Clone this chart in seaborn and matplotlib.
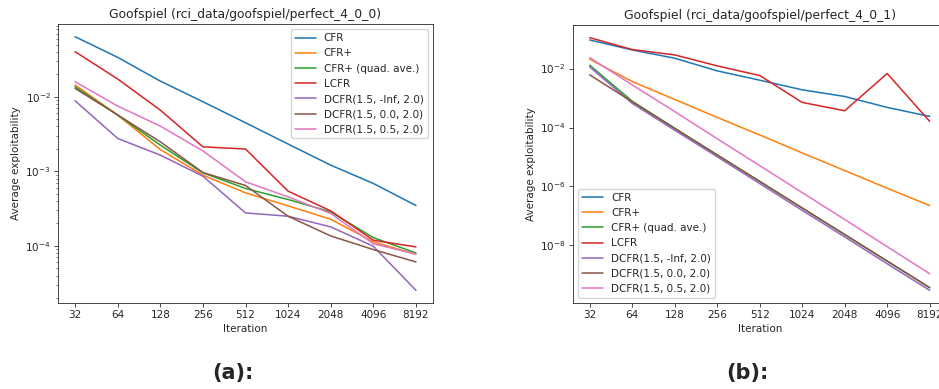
import numpy as np
import pandas as pd
import matplotlib
matplotlib.use("Agg")
import matplotlib.pyplot as plt
import matplotlib.ticker as mticker
import seaborn as sns

iterations = [32, 64, 128, 256, 512, 1024, 2048, 4096, 8192]
algorithms = ["CFR", "CFR+", "CFR+ (quad. ave.)", "LCFR",
              "DCFR(1.5, -Inf, 2.0)", "DCFR(1.5, 0.0, 2.0)", "DCFR(1.5, 0.5, 2.0)"]

# Panel (a): perfect_4_0_0
a_cfr = [0.0638, 0.0337, 0.0162, 0.00857, 0.00448, 0.00232, 0.00121, 0.000687, 0.000348]
a_cfrp = [0.01436, 0.00568, 0.00196, 0.000889, 0.000514, 0.000344, 0.000228, 0.000113, 0.0000773]
a_cfrp_quad = [0.0136, 0.00568, 0.00225, 0.000955, 0.000589, 0.000419, 0.000286, 0.000129, 0.0000805]
a_lcfr = [0.0402, 0.0173, 0.00662, 0.00213, 0.00199, 0.000542, 0.000295, 0.000119, 0.0000970]
a_dcfr_inf = [0.00884, 0.00276, 0.00165, 0.000861, 0.000277, 0.000250, 0.000180, 0.0000990, 0.0000254]
a_dcfr_00 = [0.01294, 0.0057, 0.00249, 0.000964, 0.000646, 0.000250, 0.000136, 0.0000893, 0.0000610]
a_dcfr_05 = [0.0159, 0.0075, 0.00404, 0.00188, 0.000723, 0.000455, 0.000272, 0.000107, 0.0000773]

# Panel (b): perfect_4_0_1
b_cfr = [0.0933, 0.0427, 0.0224, 0.00834, 0.00403, 0.0019, 0.00113, 0.00048, 0.000238]
b_cfrp = [0.0207, 0.00363, 0.000895, 0.00022, 5.6e-5, 1.37e-5, 3.47e-6, 8.7e-7, 2.26e-7]
b_cfrp_quad = [0.013, 0.00078, 9.5e-5, 1.18e-5, 1.5e-6, 1.87e-7, 2.35e-8, 2.95e-9, 3.7e-10]
b_lcfr = [0.1117, 0.044, 0.029, 0.0123, 0.0058, 0.00071, 0.00037, 0.00678, 0.000162]
b_dcfr_inf = [0.0114, 0.00066, 8.1e-5, 1.02e-5, 1.26e-6, 1.55e-7, 1.95e-8, 2.4e-9, 3.0e-10]
b_dcfr_00 = [0.0061, 0.000746, 9.3e-5, 1.17e-5, 1.48e-6, 1.86e-7, 2.34e-8, 2.95e-9, 3.7e-10]
b_dcfr_05 = [0.0235, 0.0028, 0.000347, 4.17e-5, 5.1e-6, 6.2e-7, 7.6e-8, 9.1e-9, 1.1e-9]

titles = ["Goofspiel (rci_data/goofspiel/perfect_4_0_0)",
          "Goofspiel (rci_data/goofspiel/perfect_4_0_1)"]
panel_labels = ["(a):", "(b):"]
xlabel = "Iteration"
ylabel = "Average exploitability"
b_yticks = [1e-2, 1e-4, 1e-6, 1e-8]

panels = [
    [a_cfr, a_cfrp, a_cfrp_quad, a_lcfr, a_dcfr_inf, a_dcfr_00, a_dcfr_05],
    [b_cfr, b_cfrp, b_cfrp_quad, b_lcfr, b_dcfr_inf, b_dcfr_00, b_dcfr_05],
]

sns.set_theme(style="ticks")
s = 0.745
plt.rcParams.update({
    "font.family": ["DejaVu Sans"],
    "font.size": 10 * s,
    "axes.titlesize": 12 * s,
    "axes.labelsize": 10 * s,
    "xtick.labelsize": 10 * s,
    "ytick.labelsize": 10 * s,
    "legend.fontsize": 10 * s,
    "axes.linewidth": 0.8 * s,
    "axes.edgecolor": "#262626",
    "xtick.major.size": 3.5 * s,
    "ytick.major.size": 3.5 * s,
    "xtick.minor.size": 2 * s,
    "ytick.minor.size": 2 * s,
    "xtick.major.width": 0.8 * s,
    "ytick.major.width": 0.8 * s,
    "ytick.minor.width": 0.6 * s,
    "xtick.color": "#262626",
    "ytick.color": "#262626",
    "lines.linewidth": 1.5 * s,
    "axes.titlepad": 6 * s,
    "axes.labelpad": 4 * s,
    "xtick.major.pad": 3.5 * s,
    "ytick.major.pad": 3.5 * s,
})

palette = sns.color_palette("tab10", 7)

fig = plt.figure(figsize=(9.39, 3.89), dpi=100)
W, H = 939, 389
axes_px = [(58, 24, 375, 279), (572.7, 25, 374, 278)]
legend_locs = ["upper right", "lower left"]
label_x = [233, 747]

for i, (data, (x0, y0, w, h)) in enumerate(zip(panels, axes_px)):
    ax = fig.add_axes([x0 / W, (H - y0 - h) / H, w / W, h / H])
    rows = []
    for alg, vals in zip(algorithms, data):
        for it, v in zip(iterations, vals):
            rows.append({"Iteration": it, "value": v, "algorithm": alg})
    df = pd.DataFrame(rows)
    sns.lineplot(data=df, x="Iteration", y="value", hue="algorithm",
                 hue_order=algorithms, palette=palette, ax=ax,
                 linewidth=1.5 * s, estimator=None)
    ax.set_xscale("log", base=2)
    ax.set_yscale("log")
    ax.set_xticks(iterations)
    ax.set_xticklabels([str(t) for t in iterations])
    ax.xaxis.set_minor_locator(mticker.NullLocator())
    if i == 1:
        ax.yaxis.set_major_locator(mticker.FixedLocator(b_yticks))
        ax.yaxis.set_major_formatter(mticker.LogFormatterSciNotation())
        ax.yaxis.set_minor_locator(mticker.NullLocator())
    ax.set_title(titles[i])
    ax.set_xlabel(xlabel)
    ax.set_ylabel(ylabel)
    ax.legend(loc=legend_locs[i], fontsize=10 * s)
    fig.text(label_x[i] / W, 1 - 373 / H, panel_labels[i], ha="center", va="center",
             fontsize=15, fontweight="bold")

fig.savefig("out.png", dpi=100)
